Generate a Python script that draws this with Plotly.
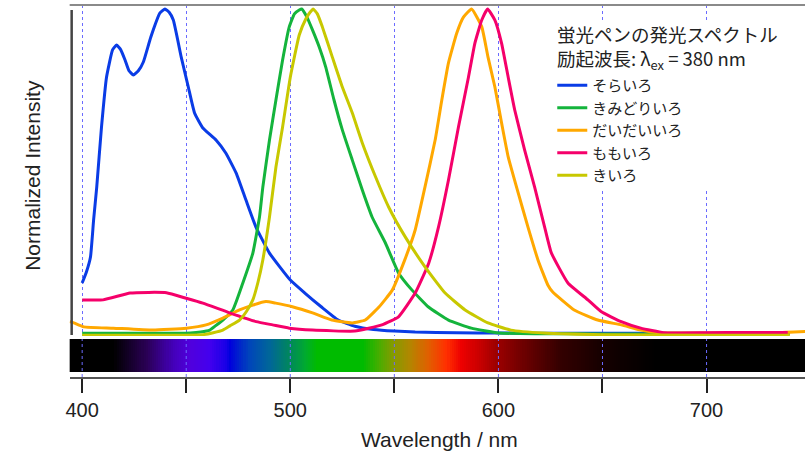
import plotly.graph_objects as go

# ---------------- data ----------------
SORA_NM = [400, 402, 404, 405.5, 407, 409.3, 411.7, 414.6, 416.5, 418.5, 420.6, 422.5, 424.6, 427, 429.4,
           433, 437.4, 439.8, 441.8, 443.8, 447.6, 451, 454, 458, 464.3, 469, 474, 478.7, 483.5, 490,
           500, 507, 515, 523, 531, 540, 550, 560, 580, 600, 620, 650, 700, 740]
SORA_I = [0.157, 0.19, 0.237, 0.351, 0.452, 0.637, 0.79, 0.874, 0.889, 0.875, 0.843, 0.81, 0.797, 0.81, 0.837,
          0.914, 0.988, 1.0, 0.99, 0.966, 0.852, 0.76, 0.68, 0.634, 0.597, 0.557, 0.495, 0.412, 0.329, 0.249,
          0.166, 0.126, 0.083, 0.043, 0.024, 0.014, 0.009, 0.006, 0.004, 0.003, 0.002, 0.002, 0.002, 0.002]

KIMIDORI_NM = [400, 420, 440, 452, 457, 461.3, 464, 467.6, 472.4, 477.2, 482, 485.2, 486.8, 490, 493.1,
               496.3, 499.5, 502, 504.3, 505.5, 508, 510.7, 513.9, 517, 521, 525, 529.8, 534.6, 539.3,
               545.7, 552, 558.5, 566.4, 576, 587, 600, 620, 650, 700, 740]
KIMIDORI_I = [0.002, 0.002, 0.002, 0.003, 0.006, 0.012, 0.025, 0.043, 0.074, 0.157, 0.249, 0.36, 0.452, 0.597,
              0.72, 0.843, 0.945, 0.985, 0.997, 1.0, 0.975, 0.935, 0.883, 0.822, 0.72, 0.628, 0.535, 0.443,
              0.36, 0.28, 0.188, 0.135, 0.083, 0.043, 0.018, 0.003, 0.001, 0.0, 0.0, 0.0]

DAIDAI_NM = [394, 396, 400.7, 415, 434, 450, 459.5, 467.6, 475.6, 482, 488.3, 493, 501, 510.7, 520, 529.8,
             536, 542.6, 549, 555, 560, 564.7, 569.6, 572.8, 576, 580, 583.2, 587.1, 592, 595, 598.3,
             601.5, 604.7, 609.5, 614.2, 619, 623.8, 626, 636.4, 647.7, 659, 668.4, 677, 700, 730, 742, 748]
DAIDAI_I = [0.038, 0.034, 0.022, 0.018, 0.012, 0.018, 0.028, 0.049, 0.074, 0.089, 0.1, 0.095, 0.084, 0.065,
            0.043, 0.034, 0.043, 0.083, 0.135, 0.228, 0.32, 0.452, 0.597, 0.72, 0.834, 0.926, 0.975, 1.0,
            0.945, 0.852, 0.76, 0.65, 0.545, 0.434, 0.329, 0.228, 0.15, 0.13, 0.074, 0.043, 0.028, 0.012,
            0.004, 0.003, 0.003, 0.006, 0.008]

MOMO_NM = [400, 410, 423, 432, 440.5, 450, 458, 470.8, 483.6, 491.5, 499.5, 510.7, 531, 544, 552, 560,
           566.5, 571.2, 576, 580.8, 585.6, 588.7, 592, 594.8, 598.3, 601.5, 604.7, 607.8, 612.6, 617.4,
           622.2, 625.4, 633.4, 643, 649.3, 659, 668.4, 679.4, 700, 720, 739]
MOMO_I = [0.105, 0.105, 0.126, 0.128, 0.127, 0.11, 0.095, 0.065, 0.038, 0.028, 0.018, 0.012, 0.009, 0.028,
          0.053, 0.126, 0.218, 0.329, 0.474, 0.637, 0.79, 0.895, 0.966, 1.0, 0.966, 0.895, 0.79, 0.69,
          0.566, 0.452, 0.329, 0.25, 0.157, 0.105, 0.069, 0.038, 0.018, 0.004, 0.004, 0.005, 0.005]

KI_NM = [400, 440, 458, 463, 467.6, 471, 475.6, 479, 482, 484.5, 486.8, 490, 493.1, 496.3, 500, 504.3,
         507.5, 509.5, 511, 513, 515.4, 520.2, 525, 529.8, 534.6, 541, 547.3, 555.3, 564.8, 574.4, 584,
         595, 606, 622, 650, 700, 740]
KI_I = [-0.004, -0.004, -0.002, 0.004, 0.012, 0.025, 0.043, 0.07, 0.105, 0.16, 0.228, 0.36, 0.514, 0.637,
        0.79, 0.92, 0.97, 0.99, 1.0, 0.985, 0.945, 0.852, 0.76, 0.68, 0.588, 0.483, 0.39, 0.298, 0.206,
        0.126, 0.074, 0.034, 0.012, 0.003, -0.002, -0.004, -0.004]

SERIES_NAMES = ["そらいろ", "きみどりいろ", "だいだいいろ", "ももいろ", "きいろ"]
SERIES_COLORS = ["#0a3ce6", "#14b43c", "#ffa800", "#f5006a", "#c8c800"]

SPECTRUM_NM = [394, 415, 431, 444, 452, 461, 469, 471, 480, 490, 500, 507, 513, 535, 544, 550, 557, 566,
               575, 582, 590, 600, 614, 630, 650, 675, 748]
SPECTRUM_COLORS = ["#000000", "#000000", "#2a0055", "#4400bb", "#5000dd", "#4400ee", "#1800e6", "#0000dd",
                   "#0044bb", "#006699", "#00885a", "#00aa30", "#00bb00", "#00bb00", "#55aa00", "#889900",
                   "#b08800", "#e06000", "#ff3000", "#ee0000", "#cc0000", "#990000", "#660000", "#330000",
                   "#150000", "#000000", "#000000"]

GRID_NM = [400, 450, 500, 550, 600, 650, 700]
TICK_VALS = [400, 500, 600, 700]
TICK_TEXT = ["400", "500", "600", "700"]

X_RANGE = [394.0, 747.3]

TITLE = "蛍光ペンの発光スペクトル<br>励起波長: λ<sub>ex</sub> = 380 nm"

# ---------------- figure ----------------
W, H = 805, 453


def px_x(p):
    return p / W


def px_y(p):
    return 1 - p / H


fig = go.Figure()

for nm, inten, name, col in zip(
        [SORA_NM, KIMIDORI_NM, DAIDAI_NM, MOMO_NM, KI_NM],
        [SORA_I, KIMIDORI_I, DAIDAI_I, MOMO_I, KI_I],
        SERIES_NAMES, SERIES_COLORS):
    fig.add_trace(go.Scatter(x=nm, y=inten, name=name, mode="lines",
                             line=dict(color=col, width=3, shape="spline", smoothing=0.4),
                             xaxis="x", yaxis="y"))

# spectrum bar
lo, hi = SPECTRUM_NM[0], SPECTRUM_NM[-1]
cscale = [[(w - lo) / (hi - lo), c] for w, c in zip(SPECTRUM_NM, SPECTRUM_COLORS)]
bar_x = list(range(int(lo), int(hi) + 1))
fig.add_trace(go.Heatmap(x=bar_x, y=[0.5], z=[bar_x], zmin=lo, zmax=hi, colorscale=cscale,
                         showscale=False, hoverinfo="skip", xaxis="x2", yaxis="y2", showlegend=False))

grid_col = "#6b6bff"
jp_font = "Noto Sans CJK JP"
fig.update_layout(
    width=W, height=H,
    margin=dict(l=0, r=0, t=0, b=0),
    paper_bgcolor="white", plot_bgcolor="white",
    xaxis=dict(domain=[px_x(66), 1], range=X_RANGE, anchor="y", showticklabels=False, ticks="",
               showgrid=True, gridcolor=grid_col, griddash="dot", gridwidth=1,
               tickvals=GRID_NM, zeroline=False, showline=False),
    yaxis=dict(domain=[px_y(336), px_y(5)], range=[-0.00615, 1.0123], showticklabels=False,
               showgrid=False, zeroline=False, showline=False, ticks=""),
    xaxis2=dict(domain=[px_x(66), 1], range=X_RANGE, anchor="y2", matches="x",
                tickvals=TICK_VALS, ticktext=TICK_TEXT, ticks="outside", ticklen=14, tickwidth=2,
                tickcolor="#222", showline=True, linecolor="#555", linewidth=2, showgrid=False,
                minor=dict(ticks="outside", ticklen=14, tickwidth=2, tickcolor="#222",
                           tick0=400, dtick=50, showgrid=False),
                zeroline=False, tickfont=dict(family="Liberation Sans, Arial", size=20, color="#222")),
    yaxis2=dict(domain=[px_y(377), px_y(339)], range=[-0.141, 1.0], showticklabels=False,
                showgrid=False, zeroline=False, showline=False, ticks=""),
    legend=dict(x=px_x(551), y=px_y(69), xanchor="left", yanchor="top", bgcolor="rgba(0,0,0,0)",
                borderwidth=0, itemwidth=30, tracegroupgap=0,
                font=dict(family=jp_font, size=15, color="#222")),
    showlegend=True,
)

shapes = []
for g in GRID_NM:
    shapes.append(dict(type="line", xref="x2", yref="y2 domain", x0=g, x1=g, y0=0, y1=1,
                       line=dict(color=grid_col, width=1, dash="dot"), layer="above"))
shapes.append(dict(type="line", xref="paper", yref="paper", x0=px_x(66), x1=1, y0=px_y(5), y1=px_y(5),
                   line=dict(color="#8a8a8a", width=2)))
shapes.append(dict(type="line", xref="paper", yref="paper", x0=px_x(68), x1=px_x(68), y0=px_y(10),
                   y1=px_y(335), line=dict(color="#444", width=2.5)))
# white legend backdrop (hides the grid behind the legend box, as in the reference)
shapes.append(dict(type="rect", xref="paper", yref="paper", x0=px_x(546), x1=1, y0=px_y(191), y1=px_y(21),
                   fillcolor="white", line=dict(width=0), layer="above"))
fig.update_layout(shapes=shapes)

fig.add_annotation(text=TITLE, x=px_x(554), y=px_y(48), xref="paper", yref="paper", showarrow=False,
                   xanchor="left", yanchor="middle", align="left",
                   font=dict(family=jp_font, size=18.5, color="#222"))

fig.add_annotation(text="Normalized Intensity", x=px_x(28), y=px_y(175), xref="paper", yref="paper",
                   textangle=-90, showarrow=False, xanchor="center", yanchor="middle",
                   font=dict(family="Liberation Sans, Arial", size=21, color="#222"))
fig.add_annotation(text="Wavelength / nm", x=px_x(438), y=px_y(439), xref="paper", yref="paper",
                   showarrow=False, xanchor="center", yanchor="middle",
                   font=dict(family="Liberation Sans, Arial", size=21, color="#222"))

# remove the browser's default 8px body margin so the figure sits at the page's top-left corner
fig.write_html("out.html", config={"displayModeBar": False},
               post_script="document.body.style.margin='0';document.body.style.overflow='hidden';")
